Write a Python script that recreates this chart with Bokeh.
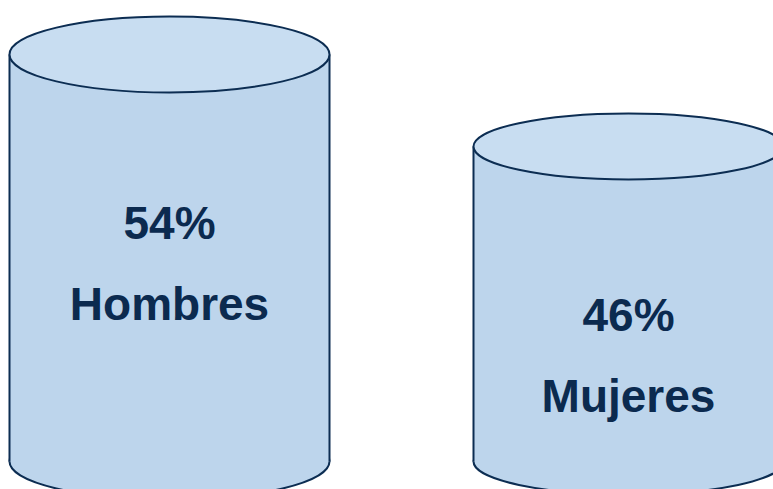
from bokeh.plotting import figure
from bokeh.models import Range1d, ColumnDataSource
from bokeh.core.properties import value
from bokeh.embed import file_html
from bokeh.resources import INLINE

# Data
categories = ["Hombres", "Mujeres"]
percent = [54, 46]
pct_labels = ["54%", "46%"]

# Layout (screen-pixel-like x units; y in percent units)
cx = [169, 628]
rx = [160, 155]
px_per_unit = 11.5
y_at_top = 675 / px_per_unit
base = 18.6
ry_px = [38, 33]

p = figure(width=773, height=489, output_backend="svg", toolbar_location=None,
           x_range=Range1d(0, 773),
           y_range=Range1d(y_at_top - 489 / px_per_unit, y_at_top),
           min_border=0)
p.axis.visible = False
p.grid.visible = False
p.outline_line_color = None
p.background_fill_color = "white"
p.border_fill_color = "white"

ell_h = [2 * r / px_per_unit for r in ry_px]
src = ColumnDataSource(dict(
    x=cx, w=[2 * r for r in rx], h=ell_h, top=percent, bottom=[base] * 2,
    left=[c - r for c, r in zip(cx, rx)], right=[c + r for c, r in zip(cx, rx)],
))

side = "#bdd5ec"
top_fill = "#c8ddf1"
edge = "#0c2d52"

# bottom ellipse
p.ellipse(x="x", y="bottom", width="w", height="h", source=src,
          fill_color=side, line_color=edge, line_width=2)
# body
p.quad(left="left", right="right", bottom="bottom", top="top", source=src,
       fill_color=side, line_color=None)
# sides
p.segment(x0="left", y0="bottom", x1="left", y1="top", source=src, line_color=edge, line_width=2)
p.segment(x0="right", y0="bottom", x1="right", y1="top", source=src, line_color=edge, line_width=2)
# top ellipse
p.ellipse(x="x", y="top", width="w", height="h", source=src,
          fill_color=top_fill, line_color=edge, line_width=2)

lab = ColumnDataSource(dict(
    x=cx,
    y1=[v - 168 / px_per_unit for v in percent],
    y2=[v - 249 / px_per_unit for v in percent],
    t1=pct_labels, t2=categories,
))
for yk, tk in (("y1", "t1"), ("y2", "t2")):
    p.text(x="x", y=yk, text=tk, source=lab, text_align="center",
           text_baseline="alphabetic", text_font=value("Liberation Sans"),
           text_font_style="bold", text_font_size="46px", text_color="#0b2a4f")

open("out.html", "w").write(file_html(p, INLINE))
